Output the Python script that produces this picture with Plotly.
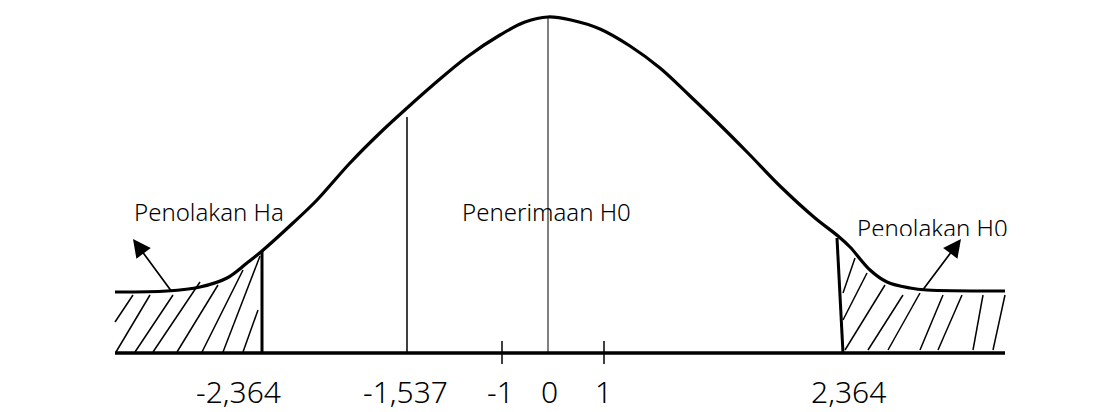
import plotly.graph_objects as go

# diagram coordinates: x across the page, y = height above the base line
BASE = 353
PAGE = 8   # body margin of the html page

curve_x = [115, 167, 200, 227, 247, 262, 293, 317, 350, 383, 407, 433, 467, 500, 525, 548,
           571, 600, 630, 660, 690, 715, 748, 781, 815, 838, 850, 870, 887, 910, 927, 1005]
curve_py = [292, 291, 287, 278, 263, 251, 223, 200, 163, 130, 108, 85, 57, 35, 22, 17,
            20, 29, 46, 68, 96, 120, 153, 187, 218, 236, 247, 270, 282, 288, 290, 291]
curve_y = [BASE - v for v in curve_py]

axis_x = [115, 1005]

# critical values and their positions on the drawing
crit_bottom = [262, 843]
crit_top_x = [262, 837]
crit_top_py = [251, 238]
mid_lines = [(407, 117, 1.5), (548, 17, 1)]
tick_pos = [502, 604]

tick_labels = ["-2,364", "-1,537", "-1", "0", "1", "2,364"]
tick_label_x = [238, 405, 500, 549, 603, 848]

# hatch strokes (bottom x, bottom y, top x, top y)
hatch_left = [(115, 322, 133, 295), (116, 352, 150, 295), (135, 352, 173, 295),
              (153, 352, 200, 282), (177, 352, 218, 285), (202, 352, 243, 270),
              (223, 352, 260, 256), (243, 352, 258, 310)]
hatch_right = [(843, 293, 855, 258), (843, 320, 867, 273), (845, 350, 885, 285),
               (868, 350, 903, 295), (888, 350, 920, 293), (920, 350, 943, 295),
               (938, 350, 962, 295), (973, 350, 983, 295), (993, 350, 1005, 295)]

labels = ["Penolakan Ha", "Penerimaan H0", "Penolakan H0"]
label_x = [134, 462, 857]
label_py = [215, 215, 231]

arrow_tail = [(172, 292), (922, 291)]
arrow_head = [(133, 239), (961, 239)]

fig = go.Figure()

def seg(xs, ys, w):
    fig.add_trace(go.Scatter(x=xs, y=ys, mode="lines", line=dict(color="black", width=w),
                             hoverinfo="skip", showlegend=False))

for x0, y0, x1, y1 in hatch_left + hatch_right:
    seg([x0, x1], [BASE - y0, BASE - y1], 1.5)

fig.add_trace(go.Scatter(x=curve_x, y=curve_y, mode="lines",
                         line=dict(color="black", width=3.2, shape="spline", smoothing=1.0),
                         hoverinfo="skip", showlegend=False))

seg(axis_x, [0, 0], 3.5)
for xb, xt, pt in zip(crit_bottom, crit_top_x, crit_top_py):
    seg([xb, xt], [0, BASE - pt], 3)
for p, top, w in mid_lines:
    seg([p, p], [0, BASE - top], w)
for p in tick_pos:
    seg([p, p], [-11, 12], 1.5)

for t, x in zip(tick_labels, tick_label_x):
    fig.add_annotation(x=x, y=BASE - 391, text=t, showarrow=False, xanchor="center", yanchor="middle",
                       font=dict(size=30, color="black", family="Noto Sans", weight=300))

# labels as scatter text so the right one can be partly covered like in the source
fig.add_trace(go.Scatter(x=label_x, y=[BASE - v for v in label_py], mode="text", text=labels,
                         textposition="middle right", hoverinfo="skip", showlegend=False,
                         textfont=dict(size=24, color="black", family="Noto Sans", weight=300)))

fig.add_shape(type="rect", x0=855, x1=1015, y0=BASE - 248, y1=BASE - 236, xref="x", yref="y",
              fillcolor="white", line=dict(width=0), layer="above")

for (tx, ty), (hx, hy) in zip(arrow_tail, arrow_head):
    fig.add_annotation(x=hx, y=BASE - hy, ax=tx, ay=BASE - ty, axref="x", ayref="y", xref="x", yref="y",
                       text="", showarrow=True, arrowhead=2, arrowsize=2.1, arrowwidth=1.7, arrowcolor="black")

fig.update_layout(
    width=1120, height=412,
    margin=dict(l=0, r=0, t=0, b=0),
    paper_bgcolor="white", plot_bgcolor="white",
    xaxis=dict(range=[PAGE, 1120 + PAGE], visible=False, fixedrange=True),
    yaxis=dict(range=[BASE - 412 - PAGE, BASE - PAGE], visible=False, fixedrange=True),
)

fig.write_html("out.html")
